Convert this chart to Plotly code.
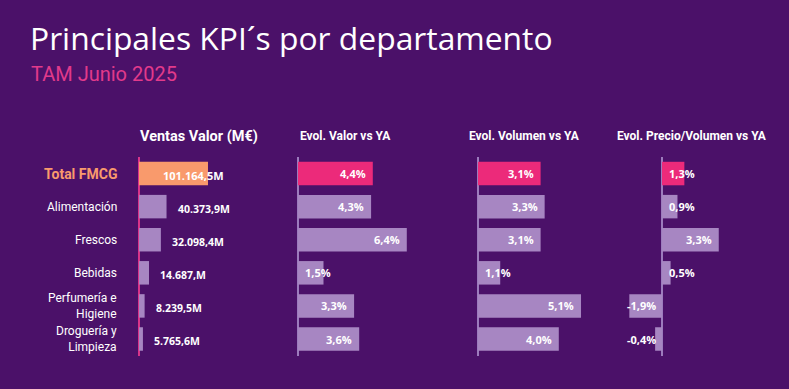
import plotly.graph_objects as go

# ---------------- data ----------------
categories = ["Total FMCG", "Alimentación", "Frescos", "Bebidas",
              "Perfumería e Higiene", "Droguería y Limpieza"]
category_labels = ["Total FMCG", "Alimentación", "Frescos", "Bebidas",
                   "Perfumería e<br>Higiene", "Droguería y<br>Limpieza"]
ventas_valor = [101164.5, 40373.9, 32098.4, 14687.0, 8239.5, 5765.6]
ventas_labels = ["101.164,5M", "40.373,9M", "32.098,4M", "14.687,M", "8.239,5M", "5.765,6M"]
evol_valor = [4.4, 4.3, 6.4, 1.5, 3.3, 3.6]
evol_volumen = [3.1, 3.3, 3.1, 1.1, 5.1, 4.0]
evol_precio = [1.3, 0.9, 3.3, 0.5, -1.9, -0.4]

headers = ["Ventas Valor (M€)", "Evol. Valor vs YA", "Evol. Volumen vs YA",
           "Evol. Precio/Volumen vs YA"]

# ---------------- style ----------------
W, H = 789, 389
BG = "#4b1169"
ORANGE = "#f99a6c"
PINK = "#ec2a7a"
LILAC = "#a786c2"
AXIS_LILAC = "#9c7bbd"
NARROW = "Roboto, sans-serif"
BOLDF = "Open Sans, DejaVu Sans, sans-serif"


def px(x):
    return x / W


def py(y):
    return 1 - y / H


# panel layout: (domain left px, domain right px, range)
panels = [
    (139, 290, [0, 151 / 0.000682]),
    (298, 460, [0, 162 / 17.0]),
    (478, 640, [0, 162 / 20.2]),
    (615, 785, [-(662 - 615) / 17.2, (785 - 662) / 17.2]),
]
y_top, y_bot = 157, 356

fig = go.Figure()

series = [ventas_valor, evol_valor, evol_volumen, evol_precio]
for i, vals in enumerate(series):
    first = ORANGE if i == 0 else PINK
    colors = [first] + [LILAC] * (len(vals) - 1)
    xa = "x" if i == 0 else f"x{i+1}"
    fig.add_trace(go.Bar(
        x=vals, y=categories, orientation="h",
        marker=dict(color=colors, line=dict(width=0)),
        xaxis=xa, yaxis="y", hoverinfo="skip", showlegend=False,
    ))

layout = dict(
    width=W, height=H,
    margin=dict(l=0, r=0, t=0, b=0),
    paper_bgcolor=BG, plot_bgcolor=BG,
    bargap=0.29,
    yaxis=dict(domain=[py(y_bot), py(y_top)], autorange="reversed",
               showticklabels=False, showgrid=False, zeroline=False,
               showline=False, fixedrange=True, anchor="x"),
    showlegend=False,
)
for i, (l, r, rng) in enumerate(panels):
    key = "xaxis" if i == 0 else f"xaxis{i+1}"
    layout[key] = dict(
        domain=[px(l), px(r)], range=rng,
        showticklabels=False, showgrid=False,
        zeroline=True,
        zerolinecolor="#d8348a" if i == 0 else AXIS_LILAC,
        zerolinewidth=2 if i == 0 else 1.5,
        showline=False, anchor="y", fixedrange=True,
    )
fig.update_layout(**layout)

annotations = []

# title & subtitle
annotations.append(dict(
    text="Principales KPI´s por departamento", xref="paper", yref="paper",
    x=px(28), y=py(38), xanchor="left", yanchor="middle", showarrow=False,
    font=dict(family="Open Sans, Lato, sans-serif", size=31.8, color="white"),
))
annotations.append(dict(
    text="TAM Junio 2025", xref="paper", yref="paper",
    x=px(29), y=py(74), xanchor="left", yanchor="middle", showarrow=False,
    font=dict(family="Roboto, sans-serif", size=20, color="#e23a8b"),
))

# headers
header_x = [138, 298, 467, 615]
header_size = [14.5, 12, 12, 12]
for hx, txt, sz in zip(header_x, headers, header_size):
    annotations.append(dict(
        text=f"<b>{txt}</b>", xref="paper", yref="paper",
        x=px(hx), y=py(136), xanchor="left", yanchor="middle", showarrow=False,
        font=dict(family=NARROW, size=sz, color="white"),
    ))

# category labels
for j, (cat, lab) in enumerate(zip(categories, category_labels)):
    if j == 0:
        txt = f"<b>{lab}</b>"
        font = dict(family=NARROW, size=14, color=ORANGE)
    else:
        txt = lab
        font = dict(family=NARROW, size=12, color="white")
    annotations.append(dict(
        text=txt, xref="paper", yref="y", x=px(119), y=cat,
        xanchor="right", yanchor="middle", align="right", showarrow=False,
        font=font,
    ))

# ventas value labels
for j, (cat, v, lab) in enumerate(zip(categories, ventas_valor, ventas_labels)):
    if j == 0:
        annotations.append(dict(
            text=f"<b>{lab}</b>", xref="x", yref="y", x=v, y=cat,
            xanchor="right", yanchor="middle", xshift=18, yshift=-2, showarrow=False,
            font=dict(family=BOLDF, size=11, color="white"),
        ))
    else:
        annotations.append(dict(
            text=f"<b>{lab}</b>", xref="x", yref="y", x=v, y=cat,
            xanchor="left", yanchor="middle", xshift=9, yshift=-2, showarrow=False,
            font=dict(family=BOLDF, size=10.5, color="white"),
        ))

# percentage labels
for i, vals in enumerate(series[1:], start=2):
    for cat, v in zip(categories, vals):
        txt = "<b>" + f"{v:.1f}".replace(".", ",") + "%</b>"
        fits = abs(v) >= 2.0
        if fits:
            x = v
            xanchor = "right" if v > 0 else "left"
            xshift = -5 if v > 0 else 5
        else:
            x = 0
            xanchor = "left" if v >= 0 else "right"
            xshift = 5 if v >= 0 else -4
        annotations.append(dict(
            text=txt, xref=f"x{i}", yref="y", x=x, y=cat,
            xanchor=xanchor, yanchor="middle", xshift=xshift, showarrow=False,
            font=dict(family=BOLDF, size=11, color="white"),
        ))

fig.update_layout(annotations=annotations)
fig.write_html("out.html",
               config={"displayModeBar": False},
               post_script="document.body.style.margin='0';document.body.style.overflow='hidden';")
